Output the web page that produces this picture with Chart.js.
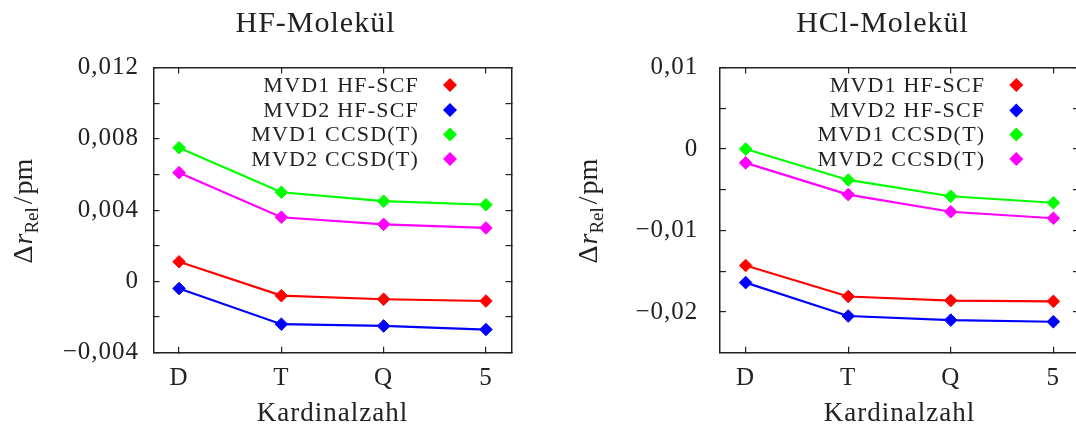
<!DOCTYPE html>
<html><head><meta charset="utf-8">
<script src="https://cdn.jsdelivr.net/npm/chart.js@4.4.1/dist/chart.umd.min.js"></script>
<style>
html,body{margin:0;padding:0;background:#fff;overflow:hidden;width:1076px;height:430px;}
#wrap{position:relative;width:1076px;height:430px;overflow:hidden;background:#fff;}
canvas{position:absolute;top:0;}
#c1{left:0;} #c2{left:540px;}
</style></head><body>
<div id="wrap"><canvas id="c1" width="540" height="430"></canvas><canvas id="c2" width="560" height="430"></canvas></div>
<script>
// ---- data ----
const categories = ['D', 'T', 'Q', '5'];
const categoryPositions = [0, 1, 2, 3];
const seriesLabels = ['MVD1 HF-SCF', 'MVD2 HF-SCF', 'MVD1 CCSD(T)', 'MVD2 CCSD(T)'];

const hfMvd1Scf   = [0.0011, -0.0008, -0.0010, -0.0011];
const hfMvd2Scf   = [-0.0004, -0.0024, -0.0025, -0.0027];
const hfMvd1Ccsdt = [0.0075, 0.0050, 0.0045, 0.0043];
const hfMvd2Ccsdt = [0.0061, 0.0036, 0.0032, 0.0030];

const hclMvd1Scf   = [-0.0143, -0.0181, -0.0186, -0.0187];
const hclMvd2Scf   = [-0.0164, -0.0205, -0.0210, -0.0212];
const hclMvd1Ccsdt = [0.0000, -0.0038, -0.0058, -0.0066];
const hclMvd2Ccsdt = [-0.0017, -0.0056, -0.0077, -0.0085];

const hfTickValues = [-0.004, -0.002, 0, 0.002, 0.004, 0.006, 0.008, 0.010, 0.012];
const hfTickLabels = ['\u22120,004', '', '0', '', '0,004', '', '0,008', '', '0,012'];
const hclTickValues = [-0.020, -0.015, -0.010, -0.005, 0, 0.005, 0.010];
const hclTickLabels = ['\u22120,02', '', '\u22120,01', '', '0', '', '0,01'];

// ---- styles ----
const seriesColors = ['#ff0000', '#0000ff', '#00ff00', '#ff00ff'];
const FONT = '"Liberation Serif", "DejaVu Serif", serif';
const INK = '#222222';

const spacingPlugin = {
  id: 'spacing',
  beforeDraw(chart) { chart.ctx.letterSpacing = '1px'; },
  afterDraw(chart) { chart.ctx.letterSpacing = '0px'; }
};

const textPlugin = {
  id: 'texts',
  afterDraw(chart, args, o) {
    const ctx = chart.ctx, ca = chart.chartArea;
    ctx.save();
    ctx.letterSpacing = '1px';
    ctx.fillStyle = INK;
    // title
    ctx.font = '30px ' + FONT;
    ctx.textAlign = 'center'; ctx.textBaseline = 'alphabetic';
    ctx.fillText(o.title, (ca.left + ca.right) / 2 + o.titleDx, o.titleY);
    // x title
    ctx.font = '27px ' + FONT;
    ctx.fillText(o.xTitle, (ca.left + ca.right) / 2, o.xTitleY);
    // y title (rotated, with subscript)
    ctx.letterSpacing = '0px';
    const parts = [
      {t: '\u0394', f: '28px ' + FONT, dy: 0, gap: 1},
      {t: 'r', f: 'italic 28px ' + FONT, dy: 0, gap: 0},
      {t: 'Rel', f: '19px ' + FONT, dy: 6, gap: 3},
      {t: '/', f: '28px ' + FONT, dy: 0, gap: 2},
      {t: 'pm', f: '28px ' + FONT, dy: 0, gap: 0}
    ];
    let total = 0;
    parts.forEach(p => { ctx.font = p.f; p.w = ctx.measureText(p.t).width; total += p.w + p.gap; });
    ctx.translate(o.yTitleX, (ca.top + ca.bottom) / 2 + 1);
    ctx.rotate(-Math.PI / 2);
    ctx.textAlign = 'left';
    let x = -total / 2;
    parts.forEach(p => { ctx.font = p.f; ctx.fillText(p.t, x, p.dy); x += p.w + p.gap; });
    ctx.restore();
    // legend
    ctx.save();
    ctx.letterSpacing = '1.2px';
    ctx.font = '22px ' + FONT;
    ctx.textAlign = 'right'; ctx.textBaseline = 'middle';
    const mx = ca.right - o.legendMarkerInset;
    chart.data.datasets.forEach((ds, i) => {
      const y = o.legendRows[i];
      ctx.fillStyle = INK;
      ctx.fillText(ds.label, mx - o.legendGap, y + 1);
      const r = 7;
      ctx.fillStyle = ds.borderColor;
      ctx.beginPath();
      ctx.moveTo(mx, y - r); ctx.lineTo(mx + r, y); ctx.lineTo(mx, y + r); ctx.lineTo(mx - r, y);
      ctx.closePath(); ctx.fill();
    });
    ctx.restore();
  }
};

function makeChart(canvasId, series, yMin, yMax, yTicks, yLabels, lay) {
  const datasets = series.map((vals, i) => ({
    label: seriesLabels[i],
    data: vals.map((v, k) => ({x: categoryPositions[k], y: v})),
    borderColor: seriesColors[i],
    backgroundColor: seriesColors[i],
    borderWidth: 2.2,
    pointStyle: 'rectRot',
    pointRadius: 6.3,
    pointHoverRadius: 6.3,
    pointBorderWidth: 1,
    pointBackgroundColor: seriesColors[i],
    pointBorderColor: seriesColors[i],
    tension: 0,
    fill: false
  }));
  const gridCommon = {drawOnChartArea: false, drawTicks: true, tickLength: -6, color: INK, lineWidth: 1.2};
  const borderCommon = {display: true, color: INK, width: 1.5};
  const xTicksFn = s => { s.ticks = categoryPositions.map(v => ({value: v})); };
  const yTicksFn = s => { s.ticks = yTicks.map(v => ({value: v})); };
  return new Chart(document.getElementById(canvasId), {
    type: 'line',
    data: {datasets},
    options: {
      responsive: false, animation: false, devicePixelRatio: 1,
      layout: {padding: 0},
      plugins: {legend: {display: false}, tooltip: {enabled: false}, title: {display: false},
        texts: lay.texts},
      scales: {
        x: {type: 'linear', position: 'bottom', min: -0.25, max: 3.25,
          afterBuildTicks: xTicksFn,
          afterFit: s => { s.height = lay.bottomH; },
          ticks: {autoSkip: false, maxRotation: 0, padding: 16.5, color: INK,
            font: {family: FONT, size: 25},
            callback: (v) => categories[categoryPositions.indexOf(v)]},
          grid: gridCommon, border: borderCommon},
        x2: {type: 'linear', position: 'top', min: -0.25, max: 3.25,
          afterBuildTicks: xTicksFn,
          afterFit: s => { s.height = lay.topH; },
          ticks: {display: false},
          grid: gridCommon, border: borderCommon},
        y: {type: 'linear', position: 'left', min: yMin, max: yMax,
          afterBuildTicks: yTicksFn,
          afterFit: s => { s.width = lay.leftW; },
          ticks: {autoSkip: false, padding: lay.yPad, color: INK,
            font: {family: FONT, size: 25},
            callback: (v, i) => yLabels[i]},
          grid: gridCommon, border: borderCommon},
        y2: {type: 'linear', position: 'right', min: yMin, max: yMax,
          afterBuildTicks: yTicksFn,
          afterFit: s => { s.width = lay.rightW; },
          ticks: {display: false},
          grid: gridCommon, border: borderCommon}
      }
    },
    plugins: [spacingPlugin, textPlugin]
  });
}

makeChart('c1', [hfMvd1Scf, hfMvd2Scf, hfMvd1Ccsdt, hfMvd2Ccsdt], -0.004, 0.012, hfTickValues, hfTickLabels, {
  leftW: 153.5, rightW: 28.5, topH: 67.5, bottomH: 77.3, yPad: 20.5,
  texts: {title: 'HF-Molek\u00fcl', titleDx: -17, titleY: 31.7, xTitle: 'Kardinalzahl', xTitleY: 421,
    yTitleX: 31.7, legendRows: [85, 110, 134.5, 159], legendMarkerInset: 61.5, legendGap: 31}
});
makeChart('c2', [hclMvd1Scf, hclMvd2Scf, hclMvd1Ccsdt, hclMvd2Ccsdt], -0.025, 0.01, hclTickValues, hclTickLabels, {
  leftW: 180, rightW: 21, topH: 67.5, bottomH: 77.3, yPad: 27.7,
  texts: {title: 'HCl-Molek\u00fcl', titleDx: -17, titleY: 31.7, xTitle: 'Kardinalzahl', xTitleY: 421,
    yTitleX: 57, legendRows: [85, 110.5, 134.5, 159], legendMarkerInset: 62.7, legendGap: 31}
});
</script>
</body></html>
